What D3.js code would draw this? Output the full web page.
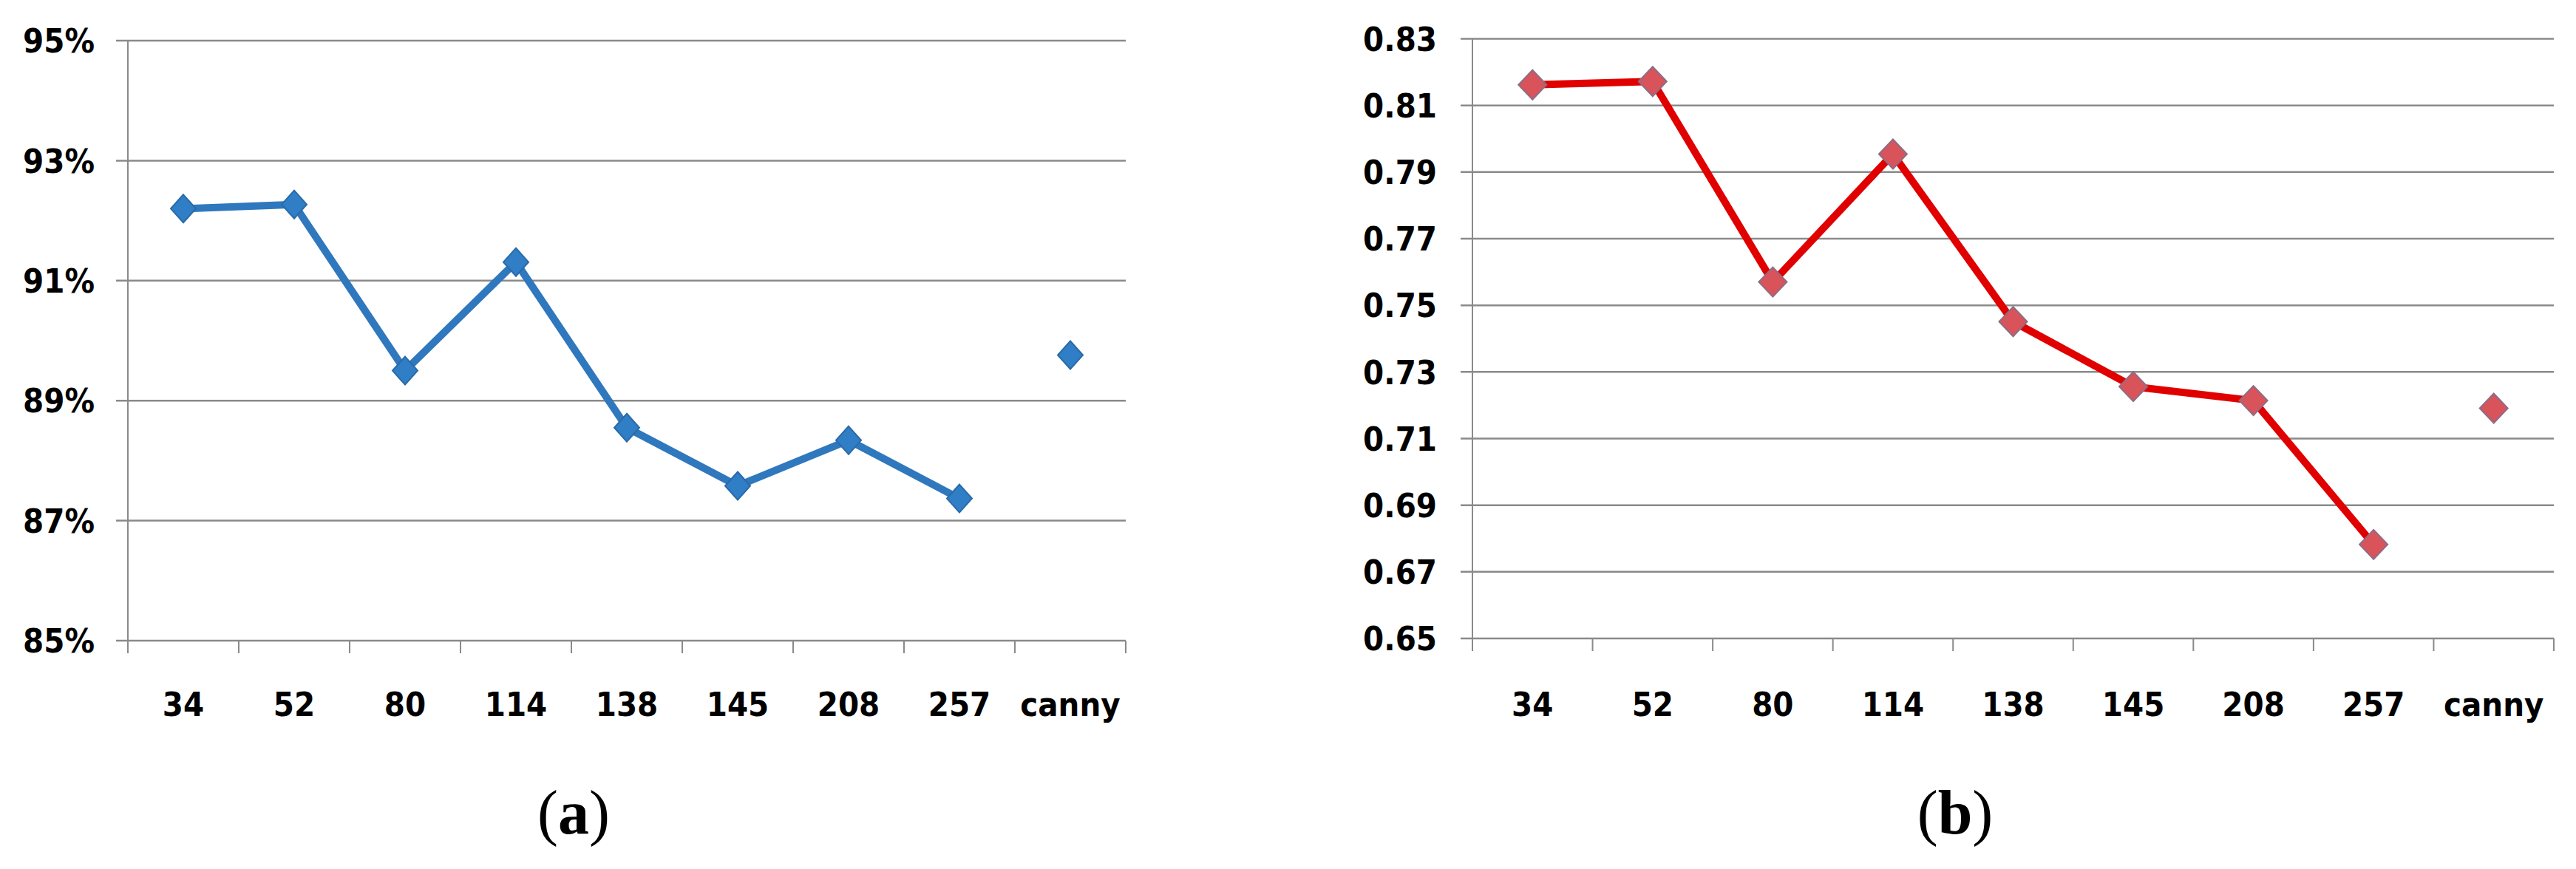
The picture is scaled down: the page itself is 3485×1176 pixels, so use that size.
<!DOCTYPE html>
<html>
<head>
<meta charset="utf-8">
<script src="https://cdn.jsdelivr.net/npm/d3@7/dist/d3.min.js"></script>
<style>
  html, body { margin: 0; padding: 0; background: #ffffff; }
  svg { display: block; }
</style>
</head>
<body>
<svg id="chart" width="3485" height="1176"></svg>
<script>
// ---- data ----
const categories = ["34", "52", "80", "114", "138", "145", "208", "257", "canny"];
const accuracyValues = [92.2, 92.27, 89.5, 91.31, 88.55, 87.58, 88.34, 87.37, 89.76];
const fscoreValues = [0.8162, 0.8172, 0.757, 0.7954, 0.7451, 0.7256, 0.7214, 0.6782, 0.7191];
const accuracyTicks = [85, 87, 89, 91, 93, 95];
const fscoreTicks = [0.65, 0.67, 0.69, 0.71, 0.73, 0.75, 0.77, 0.79, 0.81, 0.83];
const lineCount = 8; // "canny" is shown as an isolated point
const captions = ["(a)", "(b)"];

const svg = d3.select("#chart");
const labelFont = "'DejaVu Sans Condensed', 'DejaVu Sans', sans-serif";

function drawPanel(cfg) {
  const g = svg.append("g");
  const x = d3.scaleBand().domain(categories).range([cfg.x0, cfg.x1]).padding(0);
  const y = d3.scaleLinear().domain(cfg.domain).range([cfg.yBottom, cfg.yTop]);
  const cx = d => x(d) + x.bandwidth() / 2;

  // horizontal gridlines (with small tick extending left of axis)
  g.append("g").selectAll("line").data(cfg.ticks).join("line")
    .attr("x1", cfg.x0 - 16).attr("x2", cfg.x1)
    .attr("y1", d => y(d)).attr("y2", d => y(d))
    .attr("stroke", "#8a8a8a").attr("stroke-width", 2.5);

  // vertical axis line
  g.append("line")
    .attr("x1", cfg.x0).attr("x2", cfg.x0)
    .attr("y1", y(cfg.domain[1])).attr("y2", y(cfg.domain[0]) + 17)
    .attr("stroke", "#8a8a8a").attr("stroke-width", 2);

  // category tick marks at band boundaries
  const bounds = categories.map(c => x(c)).concat([cfg.x1]);
  g.append("g").selectAll("line").data(bounds).join("line")
    .attr("x1", d => d).attr("x2", d => d)
    .attr("y1", y(cfg.domain[0])).attr("y2", y(cfg.domain[0]) + 17)
    .attr("stroke", "#8a8a8a").attr("stroke-width", 2);

  // y tick labels
  g.append("g").selectAll("text").data(cfg.ticks).join("text")
    .attr("x", cfg.x0 - cfg.labelGap)
    .attr("y", d => y(d))
    .attr("dy", "0.36em")
    .attr("text-anchor", "end")
    .attr("font-family", labelFont)
    .attr("font-weight", "bold")
    .attr("font-size", 45)
    .attr("fill", "#000")
    .text(cfg.format);

  // x labels
  g.append("g").selectAll("text").data(categories).join("text")
    .attr("x", d => cx(d))
    .attr("y", 969)
    .attr("text-anchor", "middle")
    .attr("font-family", labelFont)
    .attr("font-weight", "bold")
    .attr("font-size", 45)
    .attr("fill", "#000")
    .text(d => d);

  // line
  const pts = categories.map((c, i) => ({ c, v: cfg.values[i] }));
  const line = d3.line().x(d => cx(d.c)).y(d => y(d.v));
  g.append("path")
    .datum(pts.slice(0, lineCount))
    .attr("d", line)
    .attr("fill", "none")
    .attr("stroke", cfg.lineColor)
    .attr("stroke-width", 10)
    .attr("stroke-linejoin", "round");

  // diamond markers
  const hw = cfg.markerW, hh = cfg.markerH;
  g.append("g").selectAll("path").data(pts).join("path")
    .attr("d", d => {
      const px = cx(d.c), py = y(d.v);
      const p = d3.path();
      p.moveTo(px, py - hh); p.lineTo(px + hw, py); p.lineTo(px, py + hh); p.lineTo(px - hw, py); p.closePath();
      return p.toString();
    })
    .attr("fill", cfg.markerFill)
    .attr("stroke", cfg.markerStroke)
    .attr("stroke-width", 2);

  // caption
  svg.append("text")
    .attr("x", cfg.captionX)
    .attr("y", 1128)
    .attr("text-anchor", "middle")
    .attr("font-family", "'Liberation Serif', 'Times New Roman', serif")
    .attr("font-size", 84)
    .attr("fill", "#000")
    .call(t => {
      t.append("tspan").text(cfg.caption[0]);
      t.append("tspan").attr("font-weight", "bold").text(cfg.caption.slice(1, -1));
      t.append("tspan").text(cfg.caption.slice(-1));
    });
}

drawPanel({
  x0: 173, x1: 1523, yTop: 55, yBottom: 867,
  domain: [85, 95], ticks: accuracyTicks, values: accuracyValues,
  format: d => d + "%", labelGap: 45,
  lineColor: "#2f78bd", markerFill: "#2f7ec6", markerStroke: "#2a6aa8",
  markerW: 17, markerH: 19,
  caption: captions[0], captionX: 776
});

drawPanel({
  x0: 1992, x1: 3455, yTop: 52.5, yBottom: 864,
  domain: [0.65, 0.83], ticks: fscoreTicks, values: fscoreValues,
  format: d => d3.format(".2f")(d), labelGap: 48,
  lineColor: "#e00000", markerFill: "#d9535b", markerStroke: "#8c6d86",
  markerW: 19, markerH: 20,
  caption: captions[1], captionX: 2645
});
</script>
</body>
</html>
